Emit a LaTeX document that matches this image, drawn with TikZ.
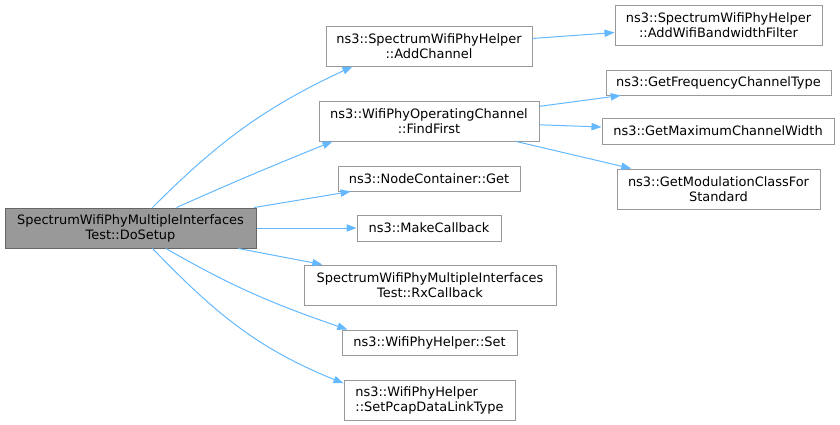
\documentclass[tikz,border=0pt]{standalone}
\usepackage{fontspec}
\setmainfont{DejaVu Sans}
\usetikzlibrary{arrows.meta}
\definecolor{edgeblue}{HTML}{63B8FF}
\definecolor{boxgray}{HTML}{999999}
\definecolor{maingray}{HTML}{666666}

\begin{document}
\begin{tikzpicture}[x=0.75pt, y=0.75pt,
  fn/.style={draw=boxgray, fill=white, line width=0.75pt, inner sep=0pt, align=center, font=\fontsize{9.7}{11.25}\selectfont},
  fnmain/.style={fn, draw=maingray, fill=boxgray},
  call/.style={draw=edgeblue, line width=0.75pt, -{Stealth[length=7.5pt, width=5.5pt, inset=0pt]}}]
  \useasboundingbox (0,0) rectangle (840,-425);

  % Caller
  \node[fnmain, minimum width=251*0.75pt, minimum height=30pt] (main) at (130.5,-228) {SpectrumWifiPhyMultipleInterfaces\\Test::DoSetup};

  % Direct callees
  \node[fn, minimum width=206*0.75pt, minimum height=30pt] (addch) at (429,-46) {ns3::SpectrumWifiPhyHelper\\::AddChannel};
  \node[fn, minimum width=220*0.75pt, minimum height=30pt] (findf) at (429,-121) {ns3::WifiPhyOperatingChannel\\::FindFirst};
  \node[fn, minimum width=182*0.75pt, minimum height=25*0.75pt] (getnc) at (429,-178.5) {ns3::NodeContainer::Get};
  \node[fn, minimum width=144*0.75pt, minimum height=26*0.75pt] (mkcb) at (429,-228) {ns3::MakeCallback};
  \node[fn, minimum width=252*0.75pt, minimum height=30pt] (rxcb) at (430,-285) {SpectrumWifiPhyMultipleInterfaces\\Test::RxCallback};
  \node[fn, minimum width=175*0.75pt, minimum height=25*0.75pt] (physet) at (429.5,-342.5) {ns3::WifiPhyHelper::Set};
  \node[fn, align=left, minimum width=171*0.75pt, minimum height=30pt] (pcap) at (429.5,-400) {ns3::WifiPhyHelper\\::SetPcapDataLinkType};

  % Second level
  \node[fn, minimum width=207*0.75pt, minimum height=30pt] (bwf) at (718.5,-25) {ns3::SpectrumWifiPhyHelper\\::AddWifiBandwidthFilter};
  \node[fn, minimum width=225*0.75pt, minimum height=25*0.75pt] (freq) at (718.5,-82.5) {ns3::GetFrequencyChannelType};
  \node[fn, minimum width=232*0.75pt, minimum height=26*0.75pt] (maxw) at (718,-131) {ns3::GetMaximumChannelWidth};
  \node[fn, minimum width=203*0.75pt, minimum height=30pt] (modc) at (718.5,-189) {ns3::GetModulationClassFor\\Standard};

  % Calls from DoSetup
  \draw[call] (main.43) to[out=45, in=-155] (addch.-165);
  \draw[call] (main.24) to[out=24, in=-158] (findf.-168);
  \draw[call] (main) -- (getnc);
  \draw[call] (main) -- (mkcb);
  \draw[call] (main) -- (rxcb);
  \draw[call] (main.-30) to[out=-30, in=161] (physet.171);
  \draw[call] (main.-43) to[out=-46, in=158] (pcap.169);

  % Calls further on
  \draw[call] (addch) -- (bwf);
  \draw[call] (findf) -- (freq);
  \draw[call] (findf) -- (maxw);
  \draw[call] (findf) -- (modc);
\end{tikzpicture}
\end{document}
